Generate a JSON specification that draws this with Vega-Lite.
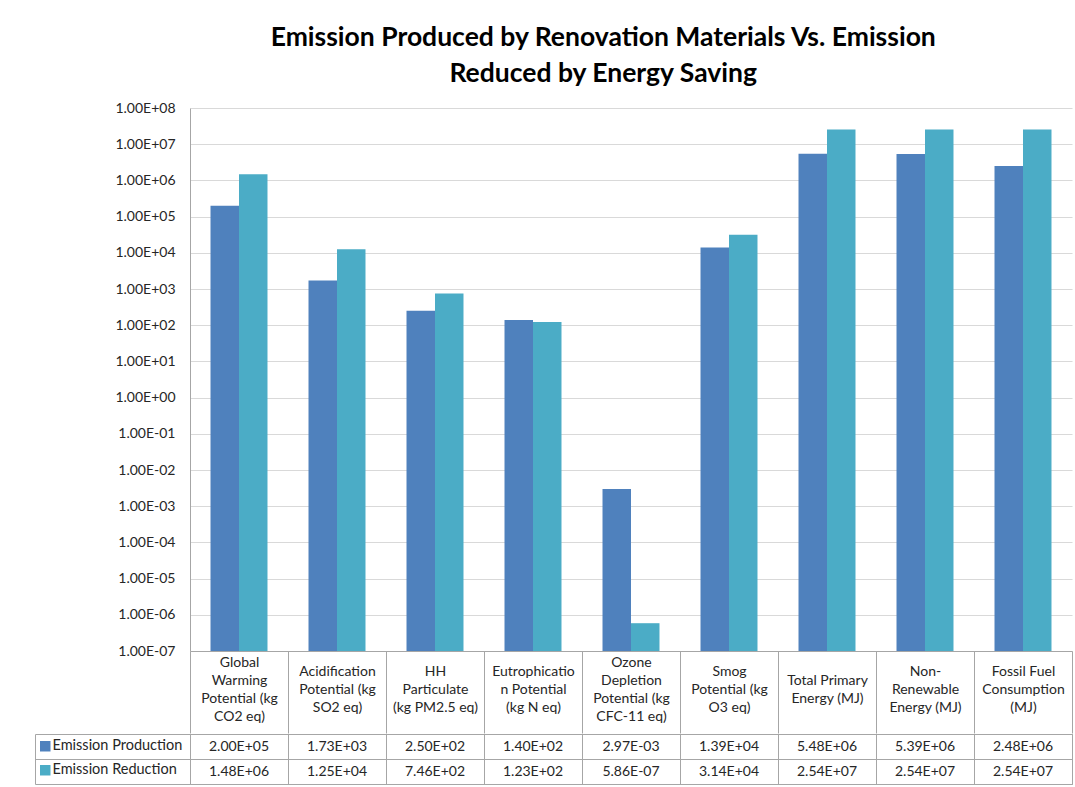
{
  "$schema": "https://vega.github.io/schema/vega-lite/v6.json",
  "background": "white",
  "padding": {"left": 34, "top": 24, "right": 4, "bottom": 4},
  "title": {
    "text": ["Emission Produced by Renovation Materials Vs. Emission", "Reduced by Energy Saving"],
    "font": "Lato",
    "fontSize": 26.5,
    "fontWeight": "bold",
    "color": "black",
    "anchor": "middle",
    "lineHeight": 36,
    "offset": 14,
    "dx": 50
  },
  "datasets": {
    "emissions": [
      {"category": "Global Warming Potential (kg CO2 eq)", "series": "Emission Production", "value": 200000},
      {"category": "Global Warming Potential (kg CO2 eq)", "series": "Emission Reduction", "value": 1480000},
      {"category": "Acidification Potential (kg SO2 eq)", "series": "Emission Production", "value": 1730},
      {"category": "Acidification Potential (kg SO2 eq)", "series": "Emission Reduction", "value": 12500},
      {"category": "HH Particulate (kg PM2.5 eq)", "series": "Emission Production", "value": 250},
      {"category": "HH Particulate (kg PM2.5 eq)", "series": "Emission Reduction", "value": 746},
      {"category": "Eutrophication Potential (kg N eq)", "series": "Emission Production", "value": 140},
      {"category": "Eutrophication Potential (kg N eq)", "series": "Emission Reduction", "value": 123},
      {"category": "Ozone Depletion Potential (kg CFC-11 eq)", "series": "Emission Production", "value": 0.00297},
      {"category": "Ozone Depletion Potential (kg CFC-11 eq)", "series": "Emission Reduction", "value": 0.000000586},
      {"category": "Smog Potential (kg O3 eq)", "series": "Emission Production", "value": 13900},
      {"category": "Smog Potential (kg O3 eq)", "series": "Emission Reduction", "value": 31400},
      {"category": "Total Primary Energy (MJ)", "series": "Emission Production", "value": 5480000},
      {"category": "Total Primary Energy (MJ)", "series": "Emission Reduction", "value": 25400000},
      {"category": "Non-Renewable Energy (MJ)", "series": "Emission Production", "value": 5390000},
      {"category": "Non-Renewable Energy (MJ)", "series": "Emission Reduction", "value": 25400000},
      {"category": "Fossil Fuel Consumption (MJ)", "series": "Emission Production", "value": 2480000},
      {"category": "Fossil Fuel Consumption (MJ)", "series": "Emission Reduction", "value": 25400000}
    ]
  },
  "spacing": -2,
  "vconcat": [
    {
      "width": 882,
      "height": 543,
      "view": {"stroke": null},
      "data": {"name": "emissions"},
      "mark": {"type": "bar"},
      "encoding": {
        "x": {
          "field": "category",
          "type": "nominal",
          "sort": ["Global Warming Potential (kg CO2 eq)", "Acidification Potential (kg SO2 eq)", "HH Particulate (kg PM2.5 eq)", "Eutrophication Potential (kg N eq)", "Ozone Depletion Potential (kg CFC-11 eq)", "Smog Potential (kg O3 eq)", "Total Primary Energy (MJ)", "Non-Renewable Energy (MJ)", "Fossil Fuel Consumption (MJ)"],
          "scale": {"paddingInner": 0, "paddingOuter": 0},
          "axis": {
            "title": null,
            "labelAngle": 0,
            "tickBand": "extent",
            "ticks": true,
            "tickSize": 82,
            "tickColor": "#a6a6a6",
            "domainColor": "#a6a6a6",
            "labelPadding": {
              "condition": [
                {"test": "datum.value == 'Total Primary Energy (MJ)'", "value": -53},
                {"test": "datum.value == 'Global Warming Potential (kg CO2 eq)' || datum.value == 'Ozone Depletion Potential (kg CFC-11 eq)'", "value": -71}
              ],
              "value": -62
            },
            "labelBaseline": "middle",
            "labelAlign": "center",
            "labelFont": "Lato",
            "labelFontSize": 14,
            "labelLineHeight": 18,
            "labelColor": "#262626",
            "labelLimit": 0,
            "labelExpr": "({'Global Warming Potential (kg CO2 eq)': ['Global', 'Warming', 'Potential (kg', 'CO2 eq)'], 'Acidification Potential (kg SO2 eq)': ['Acidification', 'Potential (kg', 'SO2 eq)'], 'HH Particulate (kg PM2.5 eq)': ['HH', 'Particulate', '(kg PM2.5 eq)'], 'Eutrophication Potential (kg N eq)': ['Eutrophicatio', 'n Potential', '(kg N eq)'], 'Ozone Depletion Potential (kg CFC-11 eq)': ['Ozone', 'Depletion', 'Potential (kg', 'CFC-11 eq)'], 'Smog Potential (kg O3 eq)': ['Smog', 'Potential (kg', 'O3 eq)'], 'Total Primary Energy (MJ)': ['Total Primary', 'Energy (MJ)'], 'Non-Renewable Energy (MJ)': ['Non-', 'Renewable', 'Energy (MJ)'], 'Fossil Fuel Consumption (MJ)': ['Fossil Fuel', 'Consumption', '(MJ)']})[datum.label]"
          }
        },
        "xOffset": {
          "field": "series",
          "type": "nominal",
          "sort": ["Emission Production", "Emission Reduction"],
          "scale": {"paddingInner": 0, "paddingOuter": 0.72}
        },
        "y": {
          "field": "value",
          "type": "quantitative",
          "stack": null,
          "scale": {"type": "log", "domain": [1e-7, 1e8]},
          "axis": {
            "title": null,
            "values": [1e-7, 1e-6, 1e-5, 1e-4, 1e-3, 1e-2, 1e-1, 1, 10, 100, 1000, 10000, 100000, 1000000, 10000000, 100000000],
            "grid": true,
            "gridColor": "#d9d9d9",
            "domain": true,
            "domainColor": "#a6a6a6",
            "ticks": false,
            "labelPadding": 15,
            "labelFont": "Lato",
            "labelFontSize": 14,
            "labelColor": "#262626",
            "labelExpr": "'1.00E' + (datum.value >= 1 ? '+' : '-') + (abs(round(log(datum.value) / LN10)) < 10 ? '0' : '') + abs(round(log(datum.value) / LN10))"
          }
        },
        "color": {
          "field": "series",
          "type": "nominal",
          "scale": {"domain": ["Emission Production", "Emission Reduction"], "range": ["#4f81bd", "#4bacc6"]},
          "legend": {
            "orient": "none",
            "legendX": -152,
            "legendY": 631,
            "title": null,
            "symbolType": "square",
            "symbolSize": 110,
            "symbolStrokeWidth": 0,
            "labelFont": "Lato",
            "labelFontSize": 14.5,
            "labelColor": "#262626",
            "rowPadding": 9,
            "labelOffset": 0
          }
        }
      }
    },
    {
      "width": 882,
      "height": 50,
      "view": {"stroke": "#a6a6a6"},
      "data": {"name": "emissions"},
      "transform": [
        {"calculate": "floor(log(datum.value) / LN10)", "as": "e"},
        {"calculate": "format(datum.value / pow(10, datum.e), '.2f') + 'E' + (datum.e < 0 ? '-' : '+') + (abs(datum.e) < 10 ? '0' : '') + abs(datum.e)", "as": "label"}
      ],
      "mark": {"type": "text", "font": "Lato", "fontSize": 14, "color": "#262626"},
      "encoding": {
        "x": {
          "field": "category",
          "type": "nominal",
          "sort": ["Global Warming Potential (kg CO2 eq)", "Acidification Potential (kg SO2 eq)", "HH Particulate (kg PM2.5 eq)", "Eutrophication Potential (kg N eq)", "Ozone Depletion Potential (kg CFC-11 eq)", "Smog Potential (kg O3 eq)", "Total Primary Energy (MJ)", "Non-Renewable Energy (MJ)", "Fossil Fuel Consumption (MJ)"],
          "scale": {"paddingInner": 0, "paddingOuter": 0},
          "axis": {"title": null, "labels": false, "ticks": false, "domain": false, "grid": true, "tickBand": "extent", "gridColor": "#a6a6a6"}
        },
        "y": {
          "field": "series",
          "type": "nominal",
          "sort": ["Emission Production", "Emission Reduction"],
          "scale": {"paddingInner": 0, "paddingOuter": 0},
          "axis": {"title": null, "labels": false, "offset": 155, "tickSize": -155, "tickBand": "extent", "tickColor": "#a6a6a6", "domainColor": "#a6a6a6", "grid": true, "gridColor": "#a6a6a6"}
        },
        "text": {"field": "label"}
      }
    }
  ]
}
